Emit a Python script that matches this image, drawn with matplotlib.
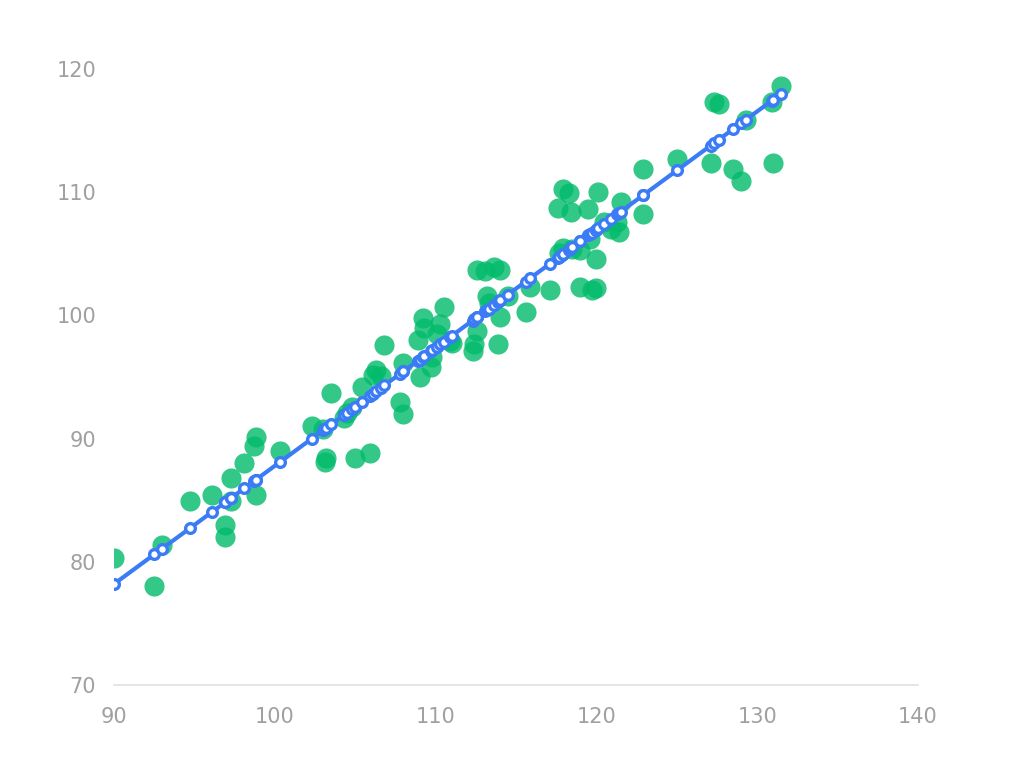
import numpy as np
import matplotlib.pyplot as plt

# scatter data
x_vals = [90.0, 92.5, 93.0, 94.7, 96.1, 96.9, 96.9, 97.3, 97.3, 98.1,
          98.8, 98.7, 98.8, 100.3, 102.3, 103.1, 103.2, 103.5, 103.0, 104.3,
          104.5, 104.8, 105.0, 105.9, 105.4, 106.1, 106.3, 106.6, 106.8, 107.8,
          108.0, 108.0, 108.9, 109.2, 109.0, 109.3, 109.7, 109.8, 110.1, 110.5,
          110.3, 111.0, 112.3, 112.4, 112.6, 112.6, 113.1, 113.2, 113.3, 113.6,
          114.0, 114.0, 113.9, 114.5, 115.6, 115.9, 117.1, 117.6, 117.9, 118.3,
          118.4, 117.7, 117.9, 118.5, 119.0, 119.0, 119.7, 120.0, 119.5, 119.6,
          120.0, 120.1, 120.5, 120.9, 121.3, 121.4, 121.5, 122.9, 122.9, 125.0,
          127.1, 127.3, 127.6, 128.5, 129.0, 129.3, 130.9, 131.0, 131.5, 110.9]
y_vals = [80.3, 78.0, 81.4, 84.9, 85.4, 83.0, 82.0, 86.8, 84.9, 88.0,
          90.1, 89.4, 85.4, 89.0, 91.0, 88.1, 88.4, 93.7, 90.8, 91.7,
          92.1, 92.6, 88.4, 88.8, 94.2, 95.2, 95.6, 95.1, 97.6, 93.0,
          92.0, 96.1, 98.0, 99.8, 95.0, 99.0, 95.8, 96.6, 98.5, 100.7,
          99.3, 97.8, 97.1, 97.7, 98.7, 103.7, 103.6, 101.6, 101.0, 103.9,
          103.7, 99.9, 97.7, 101.6, 100.3, 102.3, 102.1, 108.7, 110.3, 109.9,
          108.4, 105.1, 105.5, 105.4, 105.3, 102.3, 102.1, 102.2, 108.6, 106.2,
          104.6, 110.0, 107.6, 107.0, 107.6, 106.8, 109.2, 111.9, 108.2, 112.7,
          112.4, 117.3, 117.2, 111.9, 110.9, 115.9, 117.3, 112.4, 118.6, 97.9]

# regression line as shown in the chart
reg_slope = 0.959
reg_intercept = -8.11

x_ticks = [90, 100, 110, 120, 130, 140]
y_ticks = [70, 80, 90, 100, 110, 120]

green = '#00bb6a'
blue = '#3b7cf6'

x = np.array(x_vals)
y = np.array(y_vals)
line_x = np.sort(x)
line_y = reg_slope * line_x + reg_intercept

fig = plt.figure(figsize=(10.2, 7.72), dpi=100)
ax = fig.add_axes([0.1118, 0.1127, 0.7882, 0.7979])

ax.scatter(x, y, s=210, color=green, alpha=0.8, linewidths=0, zorder=2)
ax.plot(line_x, line_y, color=blue, lw=3, marker='o', markersize=7,
        markerfacecolor='white', markeredgecolor=blue, markeredgewidth=2.4,
        zorder=3)

ax.set_xlim(90, 140)
ax.set_ylim(70, 120)
ax.set_xticks(x_ticks)
ax.set_yticks(y_ticks)

for side in ['top', 'right', 'left']:
    ax.spines[side].set_visible(False)
ax.spines['bottom'].set_color('#e0e0e0')
ax.spines['bottom'].set_linewidth(1.2)
ax.tick_params(length=0, labelsize=15, labelcolor='#a0a0a0')
ax.tick_params(axis='y', pad=13)
ax.tick_params(axis='x', pad=16)
for lab in ax.get_xticklabels() + ax.get_yticklabels():
    lab.set_fontfamily(['Liberation Sans Narrow', 'DejaVu Sans'])

fig.savefig('out.png', dpi=100)
